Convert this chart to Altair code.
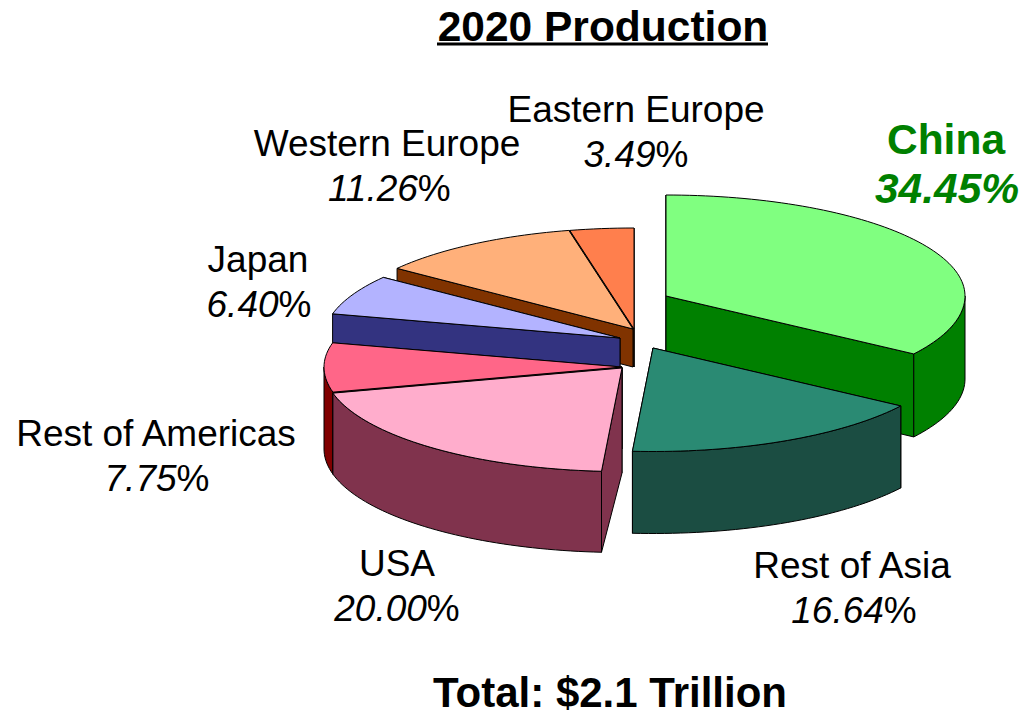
import math
import altair as alt
import pandas as pd

# Regional shares of production, clockwise from twelve o'clock
regions = ["China", "Rest of Asia", "USA", "Rest of Americas", "Japan", "Western Europe", "Eastern Europe"]
shares = [34.45, 16.64, 20.00, 7.75, 6.40, 11.26, 3.49]

# Slice styling: top face and side colours
top_colors = ["#80FF80", "#2A8A73", "#FFADCC", "#FF6688", "#B3B3FF", "#FFB07A", "#FF7F4D"]
side_colors = ["#008000", "#1B4D42", "#80334D", "#800000", "#333380", "#803300", "#803300"]

# Exploded apex of each slice, horizontal radius and extrusion depth
apex_x = [666, 653, 622, 622, 620, 633, 634]
apex_y = [296, 348, 368, 367, 338, 329, 329]
radius_x = [299, 299, 298, 298, 296, 295, 295]
rim_depth = [83, 82, 81, 82, 85, 38, 38]
apex_depth = [83, 82, 105, 82, 85, 38, 38]

RY_BACK, RY_FRONT = 101, 103.5
W, H = 1030, 716

# Label placement: centre x, name line y, value line y
label_x = [946, 852, 397, 156, 258, 387, 636]
name_y = [141, 567, 565, 435, 261, 145, 111]
value_y = [190, 612, 610, 480, 306, 190, 156]
value_cx = [947, 854, 397, 157, 259, 388, 636]


def rim(cx, cy, rx, deg):
    rad = math.radians(deg)
    c = math.cos(rad)
    return [cx + rx * math.sin(rad), cy - (RY_BACK if c > 0 else RY_FRONT) * c]


def arc(cx, cy, rx, a0, a1):
    steps = max(2, int((a1 - a0) / 1.5))
    return [rim(cx, cy, rx, a0 + (a1 - a0) * k / steps) for k in range(steps + 1)]


def feature(points, fill):
    ring = [[float(px), float(py)] for px, py in points]
    ring.append(ring[0])
    return {
        "type": "Feature",
        "geometry": {"type": "Polygon", "coordinates": [ring]},
        "properties": {"fill": fill},
    }


def radial_face(i, deg):
    cx, cy = apex_x[i], apex_y[i]
    p = rim(cx, cy, radius_x[i], deg)
    return feature(
        [[cx, cy], p, [p[0], p[1] + rim_depth[i]], [cx, cy + apex_depth[i]]],
        side_colors[i],
    )


def slice_features(i, a0, a1):
    cx, cy, rx = apex_x[i], apex_y[i], radius_x[i]
    west = (a0 + a1) / 2 > 180
    out = []
    for deg in ((a1, a0) if west else (a0, a1)):
        out.append(radial_face(i, deg))
    lo, hi = max(a0, 90), min(a1, 270)
    if hi > lo:
        upper = arc(cx, cy, rx, lo, hi)
        lower = [[px, py + rim_depth[i]] for px, py in reversed(upper)]
        out.append(feature(upper + lower, side_colors[i]))
    out.append(feature([[cx, cy]] + arc(cx, cy, rx, a0, a1), top_colors[i]))
    return out


# Slice angles accumulate from the shares
total = sum(shares)
angles = []
running = 0.0
for s in shares:
    angles.append((running * 360 / total, (running + s) * 360 / total))
    running += s

# Painter's order: back slices first, the front slices last
features = []
for i in [0, 6, 5, 4, 3, 2, 1]:
    features.extend(slice_features(i, *angles[i]))

pie = (
    alt.Chart(alt.Data(values=features))
    .mark_geoshape(stroke="#000000", strokeWidth=1, strokeJoin="round")
    .encode(fill=alt.Fill("properties.fill:N", scale=None, legend=None))
    .project(type="identity", scale=1, translate=[0, 0])
)

FONT = "Liberation Sans"
x_enc = alt.X("x:Q", scale=alt.Scale(domain=[0, W], nice=False, zero=False), axis=None)
y_enc = alt.Y("y:Q", scale=alt.Scale(domain=[H, 0], nice=False, zero=False), axis=None)


def text_layer(rows, size, **mark):
    return (
        alt.Chart(pd.DataFrame(rows))
        .mark_text(font=FONT, fontSize=size, baseline="middle", **mark)
        .encode(x=x_enc, y=y_enc, text="t:N")
    )


SIZE, BIG = 37, 42.5
digit_w = 0.556
layers = [pie]

for i in [1, 2, 3, 4, 5, 6]:
    layers.append(text_layer([{"x": label_x[i], "y": name_y[i], "t": regions[i]}], SIZE, align="center", color="#000000"))
    num = f"{shares[i]:.2f}"
    num_w = (digit_w * 4 + 0.278) * SIZE if shares[i] >= 10 else (digit_w * 3 + 0.278) * SIZE
    split = value_cx[i] - (num_w + 0.889 * SIZE) / 2 + num_w
    layers.append(text_layer([{"x": split, "y": value_y[i], "t": num}], SIZE, align="right", fontStyle="italic", color="#000000"))
    layers.append(text_layer([{"x": split, "y": value_y[i], "t": "%"}], SIZE, align="left", color="#000000"))

# The largest region gets a bold green label
GREEN = "#008000"
layers.append(text_layer([{"x": label_x[0], "y": name_y[0], "t": regions[0]}], BIG, align="center", fontWeight="bold", color=GREEN))
layers.append(text_layer([{"x": value_cx[0], "y": value_y[0], "t": f"{shares[0]:.2f}%"}], BIG, align="center", fontWeight="bold", fontStyle="italic", color=GREEN))

# Heading with underline, and the total below the pie
layers.append(text_layer([{"x": 603, "y": 28, "t": "2020 Production"}], 42.5, align="center", fontWeight="bold", color="#000000"))
layers.append(text_layer([{"x": 610, "y": 694, "t": "Total: $2.1 Trillion"}], 42, align="center", fontWeight="bold", color="#000000"))
layers.append(
    alt.Chart(pd.DataFrame([{"x": 437, "x2": 768, "y": 44}]))
    .mark_rule(color="#000000", strokeWidth=3)
    .encode(x=x_enc, x2="x2:Q", y=y_enc)
)

chart = (
    alt.layer(*layers)
    .properties(width=W, height=H, padding=0, autosize=alt.AutoSizeParams(type="none"), background="#FFFFFF")
    .configure_view(strokeWidth=0)
)

chart.save("out.html", embed_options={"renderer": "svg", "actions": False})
